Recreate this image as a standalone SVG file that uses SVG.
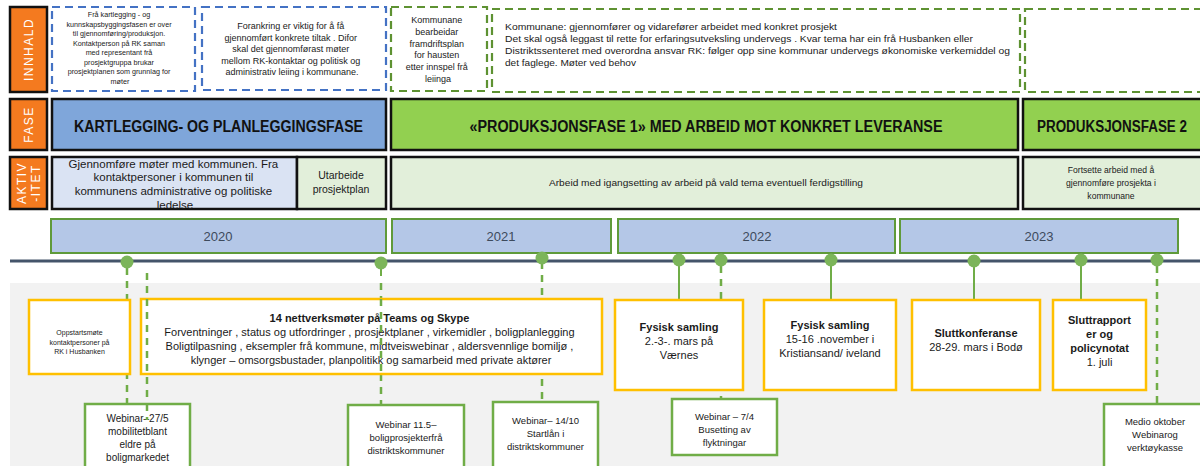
<svg xmlns="http://www.w3.org/2000/svg" width="1200" height="466" viewBox="0 0 1200 466">
<style>
text{font-family:"Liberation Sans",Arial,sans-serif;fill:#1a1a1a}
.lab{fill:#f47a1f;stroke:#111;stroke-width:2.5}
.labt{fill:#fff;font-size:12px;letter-spacing:1.5px;text-anchor:middle}
.bd{fill:#fff;stroke:#4472c4;stroke-width:2.2;stroke-dasharray:8 5}
.gd{fill:#fff;stroke:#5e9232;stroke-width:2.2;stroke-dasharray:8 5}
.ph{stroke:#111;stroke-width:2.5}
.pht{font-weight:bold;font-size:16px;text-anchor:middle;fill:#111}
.ak{stroke:#111;stroke-width:2.5}
.yr{fill:#b4c7e7;stroke:#5f9a3a;stroke-width:2}
.yt{font-size:13px;fill:#3d4a5c;text-anchor:middle}
.yb{fill:#fff;stroke:#ffc000;stroke-width:2.5}
.gb{fill:#fff;stroke:#70ad47;stroke-width:2.5}
.c{text-anchor:middle}
.b{font-weight:bold}
.sl{stroke:#70ad47;stroke-width:2;fill:none}
.dl{stroke:#70ad47;stroke-width:2.5;fill:none;stroke-dasharray:7 6}
.dot{fill:#7cb55a}
</style>
<rect x="0" y="0" width="1200" height="466" fill="#fff"/>
<rect x="10" y="283" width="1190" height="183" fill="#f2f2f2"/>

<g id="label-innhald"><rect class="lab" x="10" y="7" width="37" height="85"/><text class="labt" transform="translate(33,49.5) rotate(-90)">INNHALD</text></g>
<g id="label-fase"><rect class="lab" x="10" y="99" width="37" height="51"/><text class="labt" transform="translate(33,124.5) rotate(-90)">FASE</text></g>
<g id="label-aktivitet"><rect class="lab" x="10" y="157" width="37" height="52"/><text class="labt" transform="translate(26,183) rotate(-90)">AKTIV</text><text class="labt" transform="translate(40,183) rotate(-90)">-ITET</text></g>

<g id="innhald-1"><rect class="bd" x="52" y="7" width="143" height="84"/>
<text class="c" font-size="7.2">
<tspan x="120" y="17">Frå kartlegging    - og</tspan>
<tspan x="120" y="26.5">kunnskapsbyggingsfasen er over</tspan>
<tspan x="120" y="36">til gjennomføring/produksjon.</tspan>
<tspan x="120" y="45.5">Kontaktperson på RK saman</tspan>
<tspan x="120" y="55">med representant frå</tspan>
<tspan x="120" y="64.5">prosjektgruppa brukar</tspan>
<tspan x="120" y="74">prosjektplanen som grunnlag for</tspan>
<tspan x="120" y="83.5">møter</tspan></text></g>

<g id="innhald-2"><rect class="bd" x="202" y="7" width="184" height="83"/>
<text class="c" font-size="9">
<tspan x="292" y="29">Forankring er viktig for å få</tspan>
<tspan x="292" y="40.5">gjennomført konkrete tiltak . Difor</tspan>
<tspan x="292" y="52">skal det gjennomførast møter</tspan>
<tspan x="292" y="63.5">mellom RK-kontaktar og politisk og</tspan>
<tspan x="292" y="75">administrativ leiing i kommunane.</tspan></text></g>

<g id="innhald-3"><rect class="gd" x="391" y="7" width="96" height="84"/>
<text class="c" font-size="9">
<tspan x="438" y="23">Kommunane</tspan>
<tspan x="438" y="35">bearbeidar</tspan>
<tspan x="438" y="46.5">framdriftsplan</tspan>
<tspan x="438" y="58">for hausten</tspan>
<tspan x="438" y="70">etter innspel frå</tspan>
<tspan x="438" y="82">leiinga</tspan></text></g>

<g id="innhald-4"><rect class="gd" x="492" y="9" width="528" height="83"/>
<text font-size="9.4">
<tspan x="505" y="30" textLength="332" lengthAdjust="spacingAndGlyphs">Kommunane: gjennomfører og vidarefører arbeidet med konkret prosjekt</tspan>
<tspan x="505" y="42" textLength="468" lengthAdjust="spacingAndGlyphs">Det skal også leggast til rette for erfaringsutveksling undervegs . Kvar tema har ein frå Husbanken eller</tspan>
<tspan x="505" y="54" textLength="505" lengthAdjust="spacingAndGlyphs">Distriktssenteret med overordna ansvar RK: følger opp sine kommunar undervegs økonomiske verkemiddel og</tspan>
<tspan x="505" y="66" textLength="131" lengthAdjust="spacingAndGlyphs">det faglege. Møter ved behov</tspan></text></g>

<g id="innhald-5"><rect class="gd" x="1025" y="9" width="185" height="83"/></g>

<g id="fase-1"><rect class="ph" x="52" y="99" width="334" height="51" fill="#7fa6da"/><text class="pht" x="218.5" y="132" textLength="289" lengthAdjust="spacingAndGlyphs">KARTLEGGING- OG PLANLEGGINGSFASE</text></g>
<g id="fase-2"><rect class="ph" x="391" y="99" width="627" height="51" fill="#92d050"/><text class="pht" x="706" y="132" textLength="473" lengthAdjust="spacingAndGlyphs">«PRODUKSJONSFASE 1» MED ARBEID MOT KONKRET LEVERANSE</text></g>
<g id="fase-3"><rect class="ph" x="1023" y="99" width="187" height="51" fill="#92d050"/><text class="pht" x="1037" y="132" style="text-anchor:start" textLength="150" lengthAdjust="spacingAndGlyphs">PRODUKSJONSFASE 2</text></g>

<g id="aktivitet-1"><rect class="ak" x="52" y="157" width="245" height="52" fill="#dae3f3"/>
<text class="c" font-size="11.5">
<tspan x="175" y="168">Gjennomføre møter med kommunen. Fra</tspan>
<tspan x="175" y="181">kontaktpersoner i kommunen til</tspan>
<tspan x="175" y="195">kommunens administrative og politiske</tspan>
<tspan x="175" y="208.5">ledelse</tspan></text></g>
<g id="aktivitet-2"><rect class="ak" x="297" y="157" width="89" height="52" fill="#e2efda"/>
<text class="c" font-size="10.5"><tspan x="341" y="179">Utarbeide</tspan><tspan x="341" y="193">prosjektplan</tspan></text></g>
<g id="aktivitet-3"><rect class="ak" x="391" y="157" width="627" height="52" fill="#e2efda"/>
<text class="c" x="706" y="186" font-size="8.6" textLength="314" lengthAdjust="spacingAndGlyphs">Arbeid med igangsetting av arbeid på vald tema eventuell ferdigstilling</text></g>
<g id="aktivitet-4"><rect class="ak" x="1023" y="157" width="187" height="52" fill="#e2efda"/>
<text class="c" font-size="8.6"><tspan x="1111" y="173">Fortsette arbeid med å</tspan><tspan x="1111" y="186">gjennomføre prosjekta i</tspan><tspan x="1111" y="198.5">kommunane</tspan></text></g>

<g id="year-2020"><rect class="yr" x="51" y="219" width="335" height="34"/><text class="yt" x="218" y="241">2020</text></g>
<g id="year-2021"><rect class="yr" x="392" y="219" width="219" height="34"/><text class="yt" x="501" y="241">2021</text></g>
<g id="year-2022"><rect class="yr" x="618" y="219" width="277" height="34"/><text class="yt" x="757" y="241">2022</text></g>
<g id="year-2023"><rect class="yr" x="900" y="219" width="278" height="34"/><text class="yt" x="1039" y="241">2023</text></g>

<g id="timeline"><line x1="10" y1="261" x2="1200" y2="261" stroke="#44546a" stroke-width="3"/></g>

<g id="connectors">
<line class="dl" x1="127" y1="268" x2="127" y2="404"/>
<line class="dl" x1="147" y1="273" x2="147" y2="420"/>
<line class="sl" x1="381" y1="263" x2="381" y2="276"/>
<line class="dl" x1="381" y1="283" x2="381" y2="404"/>
<line class="dl" x1="542" y1="262" x2="542" y2="401"/>
<line class="sl" x1="679" y1="262" x2="679" y2="299"/>
<line class="dl" x1="721" y1="266" x2="721" y2="398"/>
<line class="sl" x1="831" y1="262" x2="831" y2="299"/>
<line class="sl" x1="974" y1="262" x2="974" y2="299"/>
<line class="sl" x1="1081" y1="262" x2="1081" y2="299"/>
<line class="dl" x1="1157" y1="266" x2="1157" y2="403"/>
<circle class="dot" cx="127" cy="262" r="6.5"/>
<circle class="dot" cx="381" cy="263" r="6.5"/>
<circle class="dot" cx="542" cy="258" r="6.5"/>
<circle class="dot" cx="679" cy="260" r="6.5"/>
<circle class="dot" cx="721" cy="260" r="6.5"/>
<circle class="dot" cx="831" cy="260" r="6.5"/>
<circle class="dot" cx="974" cy="261" r="6.5"/>
<circle class="dot" cx="1081" cy="260" r="6.5"/>
<circle class="dot" cx="1157" cy="260" r="6.5"/>
</g>

<g id="oppstart"><rect class="yb" x="29" y="300" width="101" height="74"/>
<text class="c" font-size="7"><tspan x="79.5" y="335">Oppstartsmøte</tspan><tspan x="79.5" y="344.5">kontaktpersoner på</tspan><tspan x="79.5" y="354">RK i Husbanken</tspan></text></g>

<g id="nettverksmoter"><rect class="yb" x="141" y="299" width="461" height="75"/>
<text class="c" font-size="11"><tspan class="b" x="371" y="322">14 nettverksmøter på Teams og Skype</tspan>
<tspan x="371" y="336">Forventninger , status og utfordringer , prosjektplaner , virkemidler , boligplanlegging</tspan>
<tspan x="371" y="350">Boligtilpasning , eksempler frå kommune, midtveiswebinar , aldersvennlige  bomiljø ,</tspan>
<tspan x="371" y="364">klynger – omsorgsbustader, planpolitikk og samarbeid med private   aktører</tspan></text>
<line class="dl" x1="147" y1="299" x2="147" y2="374"/>
<line class="dl" x1="381" y1="299" x2="381" y2="374"/></g>

<g id="fysisk-1"><rect class="yb" x="615" y="300" width="128" height="90"/>
<text class="c" font-size="11"><tspan class="b" x="679" y="331">Fysisk samling</tspan><tspan x="679" y="345">2.-3-. mars på</tspan><tspan x="679" y="359">Værnes</tspan></text></g>

<g id="fysisk-2"><rect class="yb" x="764" y="300" width="132" height="90"/>
<text class="c" font-size="11"><tspan class="b" x="830" y="329">Fysisk samling</tspan><tspan x="830" y="343">15-16 .november i</tspan><tspan x="830" y="357">Kristiansand/ iveland</tspan></text></g>

<g id="sluttkonferanse"><rect class="yb" x="912" y="300" width="128" height="90"/>
<text class="c" font-size="11"><tspan class="b" x="976" y="337">Sluttkonferanse</tspan><tspan x="976" y="351">28-29. mars i Bodø</tspan></text></g>

<g id="sluttrapport"><rect class="yb" x="1053" y="300" width="93" height="90"/>
<text class="c" font-size="11"><tspan class="b" x="1099.5" y="324">Sluttrapport</tspan><tspan class="b" x="1099.5" y="338">er og</tspan><tspan class="b" x="1099.5" y="352">policynotat</tspan><tspan x="1099.5" y="366">1. juli</tspan></text></g>

<g id="webinar-27-5"><rect class="gb" x="85" y="404" width="105" height="70"/>
<text class="c" font-size="10"><tspan x="137.5" y="422">Webinar–27/5</tspan><tspan x="137.5" y="435">mobilitetblant</tspan><tspan x="137.5" y="448">eldre på</tspan><tspan x="137.5" y="461">boligmarkedet</tspan></text>
<line class="dl" x1="147" y1="404" x2="147" y2="420"/></g>

<g id="webinar-11-5"><rect class="gb" x="348" y="405" width="116" height="70"/>
<text class="c" font-size="9.5"><tspan x="406" y="428">Webinar 11.5–</tspan><tspan x="406" y="441">boligprosjekterfrå</tspan><tspan x="406" y="454">distriktskommuner</tspan></text></g>

<g id="webinar-14-10"><rect class="gb" x="493" y="402" width="105" height="70"/>
<text class="c" font-size="9.5"><tspan x="545.5" y="424">Webinar– 14/10</tspan><tspan x="545.5" y="437">Startlån i</tspan><tspan x="545.5" y="450">distriktskommuner</tspan></text></g>

<g id="webinar-7-4"><rect class="gb" x="672" y="399" width="105" height="56"/>
<text class="c" font-size="9.5"><tspan x="724.5" y="420">Webinar – 7/4</tspan><tspan x="724.5" y="433">Busetting av</tspan><tspan x="724.5" y="446">flyktningar</tspan></text></g>

<g id="webinar-oktober"><rect class="gb" x="1104" y="404" width="106" height="70"/>
<text class="c" font-size="9.5"><tspan x="1155" y="425">Medio oktober</tspan><tspan x="1155" y="438">Webinarog</tspan><tspan x="1155" y="451">verktøykasse</tspan></text></g>
</svg>
